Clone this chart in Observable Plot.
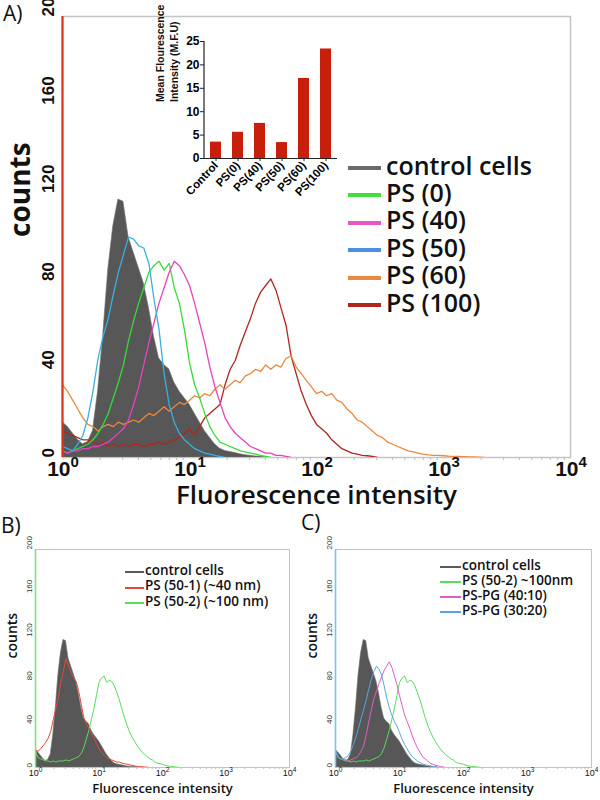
<!DOCTYPE html>
<html><head><meta charset="utf-8">
<script src="https://cdn.jsdelivr.net/npm/d3@7"></script>
<script src="https://cdn.jsdelivr.net/npm/@observablehq/plot@0.6"></script>
<style>
body{margin:0;background:#fff;}
#root{position:relative;width:600px;height:800px;overflow:hidden;font-family:"Open Sans",sans-serif;background:#fff;}
.plab{position:absolute;font-family:"Open Sans",sans-serif;color:#111;line-height:1;white-space:nowrap;}
</style></head><body><div id="root"></div>
<script>
// ---------- DATA ----------
// Histogram channels: value i sits at log10(fluorescence) = i * STEP
const STEP = 0.04;

// Panel A
const controlCells = [16,14,11,8,6,7,12,30,55,85,105,117,116,100,93,86,79,68,55,45,42,40,34,30,27,24,20,16,12,9,6,4,3,2.5,2,1.5,1,0.8,0.5,0.3,0];
const ps0  = [3,2,3,4,5,6,8,11,15,20,27,34,42,53,62,70,77,84,87,89,85,88,77,70,58,43,33,27,20,14,10,7,6,5,4,3,2.5,2,1.5,1,0.5,0];
const ps40 = [3,2,3,3,4,4,5,5,6,7,9,11,13,17,24,32,42,52,61,70,77,84,89,87,83,78,70,61,52,41,32,25,18,14,11,9,7,5,4,3,2,2,1,1,0.5,0];
const ps50 = [5,4,3,6,10,18,30,45,55,63,74,84,92,100,99,96,95,88,72,58,38,24,16,11,8,6,4,3,2,1.5,1,0.5,0];
const ps60 = [33,30,26,22,18,15,14,12,14,15,14,16,15,16,17,16,18,20,19,21,23,21,23,25,24,26,28,27,29,28,31,33,31,33,35,34,37,38,40,39,42,40,42,41,45,46,41,38,35,32,29,30,28,29,26,25,22,20,17,16,14,12,10,9,7,6,5,4,3,2.5,2,1.5,1.2,1,1,0.8,0.6,0.5,0.5,0.4,0.3,0.3,0.2,0];
const ps100 = [12,11,10,9,8,8,7,6,7,5,6,5,6,5,6,6,5,6,6,7,6,7,8,9,11,13,10,14,18,20,22,24,33,40,44,51,57,63,70,75,78,81,76,68,60,46,38,30,24,19,15,13,11,8,6,4,3,2,1.5,1,0.8,0.5,0];
const firstChannelA = 200; // off-scale first channel (PS (100))

// Panel B / C
const ps50_1 = [16,15,17,20,23,27,33,44,54,64,78,89,100,93,87,82,79,70,58,46,40,36,31,27,22,17,14,11,9,8,7,6,5,5,4,3.5,3,2.5,2,1.5,1,1,0.7,0.5,0.3,0];
const ps50_2 = [15,9,8,7,6,6,5,6,5,6,6,6,7,6,7,8,9,10,13,18,26,34,44,54,66,78,82,84,78,80,79,75,69,62,54,46,39,33,28,24,20,17,14,12,10,8,7,5,4,3.5,3,2,1.5,1,1,0.5,0.3,0];
const pspg40_10 = [15,10,8,7,7,6,7,8,9,11,15,20,30,42,53,63,70,77,83,89,93,97,92,84,76,66,57,48,42,36,29,23,18,14,10,8,6,4,3,2,1.5,1,0.5,0];
const pspg30_20 = [16,10,8,8,9,11,15,21,28,36,45,53,62,72,81,88,93,90,85,75,64,55,48,42,38,32,26,21,17,13,10,8,6,4.5,3.5,2.5,2,1.5,1,0.5,0];
const firstChannelB = 200; // PS (50-2)
const firstChannelC = 200; // PS-PG (30:20)

// Inset bar chart
const insetCategories = ["Control","PS(0)","PS(40)","PS(50)","PS(60)","PS(100)"];
const insetMFI = [3.5, 5.6, 7.5, 3.4, 17.1, 23.4];
const insetTicks = [0,5,10,15,20,25];

// Axes
const countTicks = [0,40,80,120,160,200];
const decadeTicks = [1,10,100,1000,10000];

// Legends
const legendA = ["control cells","PS (0)","PS (40)","PS (50)","PS (60)","PS (100)"];
const legendAColors = ["#6a6a6a","#3ee03a","#ea55c8","#4a8fe6","#ea8a42","#b3261e"];
const legendB = ["control cells","PS (50-1) (~40 nm)","PS (50-2) (~100 nm)"];
const legendBColors = ["#5a5a5a","#e0483c","#58dd58"];
const legendC = ["control cells","PS (50-2) ~100nm","PS-PG (40:10)","PS-PG (30:20)"];
const legendCColors = ["#5a5a5a","#58dd58","#e05cc6","#5aa6dc"];

// ---------- HELPERS ----------
const pts = arr => arr.map((c, i) => ({x: Math.pow(10, i * STEP), y: c}));
const minorTicks = [];
for (let d = 1; d < 10000; d *= 10) for (let k = 2; k <= 9; k++) minorTicks.push(d * k);
const root = document.getElementById("root");
function put(el, left, top) { el.style.position = "absolute"; el.style.left = left + "px"; el.style.top = top + "px"; root.appendChild(el); return el; }
const GRAY_FILL = "#575757";
const TICK_FONT = "Liberation Sans, Arial, sans-serif";

function histPanel({width, height, mL, mR, mT, mB, series, control, spike, spikeColor, big}) {
  const marks = [
    Plot.frame({stroke: "#c4c4c4", strokeWidth: big ? 1.5 : 1}),
    Plot.areaY(pts(control), {x: "x", y: "y", fill: GRAY_FILL, stroke: "#6e6e6e", strokeWidth: 0.6, clip: true}),
    ...series.map(s => Plot.lineY(pts(s.data), {x: "x", y: "y", stroke: s.color, strokeWidth: big ? 1.3 : 1, clip: true})),
    Plot.ruleX([1], {y1: 0, y2: spike, stroke: spikeColor, strokeWidth: big ? 2.2 : 1.6}),
    Plot.text(countTicks, {y: d => d, frameAnchor: "left", dx: big ? -14 : -6, rotate: -90, text: d => String(d),
      fontSize: big ? 17 : 8, fontWeight: big ? "bold" : "normal", fontFamily: TICK_FONT, fill: big ? "#111" : "#333"}),
    Plot.text(["counts"], {frameAnchor: "left", dx: big ? -41 : -23, rotate: -90, fontSize: big ? 28 : 14, fontWeight: big ? 700 : 600, fill: "#111"}),
    Plot.text(["Fluorescence intensity"], {frameAnchor: "bottom", dy: big ? 46 : 25, fontSize: big ? 26 : 13, fontWeight: 600, fill: "#111"})
  ];
  const svg = Plot.plot({
    width, height, marginLeft: mL, marginRight: mR, marginTop: mT, marginBottom: mB,
    x: {type: "log", domain: [1, 10000], axis: null, label: null},
    y: {domain: [0, 200], axis: null, label: null},
    style: {background: "none", overflow: "visible", fontFamily: "'Open Sans', sans-serif"},
    marks
  });
  const sx = svg.scale("x"), sy = svg.scale("y");
  const y0 = sy.apply(0);
  const sel = d3.select(svg);
  // small log ticks under the baseline
  sel.append("g").attr("stroke", "#bbb").selectAll("line").data(minorTicks).join("line")
    .attr("x1", d => sx.apply(d)).attr("x2", d => sx.apply(d))
    .attr("y1", y0).attr("y2", y0 + (big ? 3 : 2));
  // decade labels "10^k" with a real superscript
  const base = y0 + (big ? 19 : 8.5);
  const fs = big ? 21 : 9, sfs = big ? 15 : 6.5;
  const g = sel.append("g").attr("font-family", TICK_FONT)
    .attr("font-weight", big ? "bold" : "normal").attr("fill", "#111");
  decadeTicks.forEach(d => {
    const t = g.append("text").attr("x", sx.apply(d) + (big ? 1 : 0.5)).attr("y", base)
      .attr("text-anchor", "middle").attr("font-size", fs);
    t.append("tspan").text("10");
    t.append("tspan").attr("font-size", sfs).attr("dy", -fs * 0.42).text(String(Math.round(Math.log10(d))));
  });
  return svg;
}

// ---------- PANEL A ----------
const A = histPanel({
  width: 600, height: 520, mL: 62, mR: 30, mT: 16, mB: 63, big: true,
  control: controlCells, spike: firstChannelA, spikeColor: "#e0301e",
  series: [
    {data: ps100, color: "#b3261e"},
    {data: ps60, color: "#e8893e"},
    {data: ps0, color: "#35dc35"},
    {data: ps40, color: "#e544be"},
    {data: ps50, color: "#3aaee2"}
  ]
});
put(A, 0, 0);

// ---------- INSET ----------
const inset = Plot.plot({
  width: 210, height: 215, marginLeft: 64, marginRight: 13, marginTop: 16, marginBottom: 82,
  x: {domain: insetCategories, paddingInner: 0.48, paddingOuter: 0.254, axis: null, label: null},
  y: {domain: [0, 25], axis: null, label: null},
  style: {background: "none", overflow: "visible", fontFamily: "Liberation Sans, Arial, sans-serif"},
  marks: [
    Plot.barY(insetCategories.map((c, i) => ({c, v: insetMFI[i]})), {x: "c", y: "v", fill: "#c81e0c"}),
    Plot.ruleY([0], {stroke: "#222", strokeWidth: 1.2}),
    Plot.axisY({ticks: insetTicks, tickSize: 4, fontSize: 12, fontWeight: "bold", tickPadding: 1, stroke: "#222", label: null}),
    Plot.axisX({tickRotate: -47, tickSize: 3, fontSize: 11.5, fontWeight: "bold", tickPadding: 2, stroke: "#222", label: null}),
    Plot.text(["Mean Flourescence\nIntensity (M.F.U)"], {frameAnchor: "left", dx: -38, dy: 2, rotate: -90, fontSize: 10.5, fontWeight: "bold", lineHeight: 1.35, fill: "#111"})
  ]
});
{
  const ys = inset.scale("y");
  d3.select(inset).append("line")
    .attr("x1", 64).attr("x2", 64)
    .attr("y1", ys.apply(0)).attr("y2", ys.apply(25))
    .attr("stroke", "#222").attr("stroke-width", 1.2);
}
put(inset, 140, 25);

// ---------- PANEL B ----------
const B = histPanel({
  width: 300, height: 295, mL: 35, mR: 11, mT: 44, mB: 33, big: false,
  control: controlCells, spike: firstChannelB, spikeColor: "#7ee07e",
  series: [
    {data: ps50_2, color: "#58dd58"},
    {data: ps50_1, color: "#e0483c"}
  ]
});
put(B, 0, 505);

// ---------- PANEL C ----------
const C = histPanel({
  width: 300, height: 295, mL: 35, mR: 9, mT: 44, mB: 33, big: false,
  control: controlCells, spike: firstChannelC, spikeColor: "#78c4ec",
  series: [
    {data: ps50_2, color: "#58dd58"},
    {data: pspg40_10, color: "#e05cc6"},
    {data: pspg30_20, color: "#5aa6dc"}
  ]
});
put(C, 300, 505);

// ---------- LEGENDS ----------
function legend(labels, colors, {swLeft, swWidth, textLeft, top0, dy, fontSize, lineW, weight}) {
  labels.forEach((lab, i) => {
    const sw = document.createElement("div");
    sw.style.width = swWidth + "px"; sw.style.height = lineW + "px"; sw.style.background = colors[i];
    put(sw, swLeft, top0 + i * dy - lineW / 2);
    const t = document.createElement("div");
    t.className = "plab"; t.textContent = lab;
    t.style.fontSize = fontSize + "px"; t.style.fontWeight = weight;
    put(t, textLeft, top0 + i * dy - fontSize * 0.62);
  });
}
legend(legendA, legendAColors, {swLeft: 348, swWidth: 33, textLeft: 386, top0: 168, dy: 27.4, fontSize: 25, lineW: 4, weight: 600});
legend(legendB, legendBColors, {swLeft: 125, swWidth: 19, textLeft: 145, top0: 572, dy: 15.5, fontSize: 13.5, lineW: 2, weight: 600});
legend(legendC, legendCColors, {swLeft: 440, swWidth: 21, textLeft: 462, top0: 567, dy: 15, fontSize: 13.5, lineW: 2, weight: 600});

// ---------- PANEL LETTERS ----------
[["A)", 3, 3], ["B)", 1, 515], ["C)", 301, 512]].forEach(([s, l, t]) => {
  const d = document.createElement("div"); d.className = "plab"; d.textContent = s;
  d.style.fontSize = "21px"; d.style.fontWeight = "500"; put(d, l, t);
});
</script></body></html>
